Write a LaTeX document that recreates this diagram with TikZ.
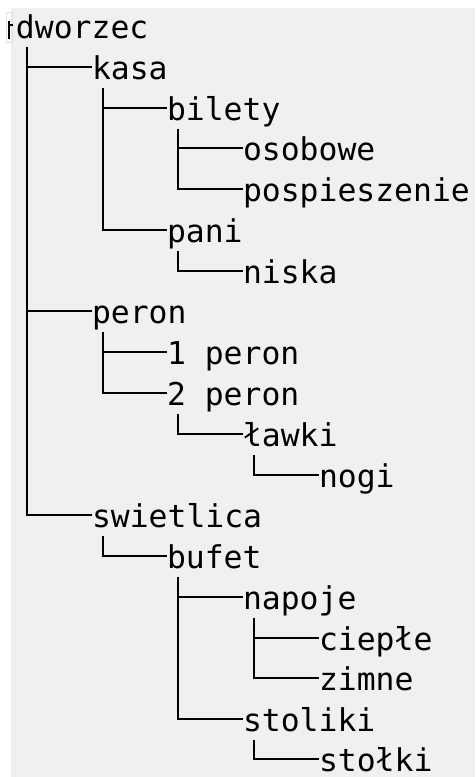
\documentclass[tikz,border=0pt]{standalone}
\usepackage{fontspec}
\newfontfamily\treefont{DejaVu Sans Mono}
\usetikzlibrary{calc}
\definecolor{panelgray}{RGB}{240,240,240}
\begin{document}
\begin{tikzpicture}[x=1pt,y=-1pt,
  treenode/.style={font=\treefont\fontsize{31.4}{38}\selectfont, inner sep=0pt, outer sep=0pt,
    text height=24pt, text depth=0pt, anchor=base west},
  branch/.style={line width=2.4pt, black}]
\useasboundingbox (0,0) rectangle (475,777);
\fill[panelgray] (11,8) rectangle (475,777);
% small partial glyph at the top left
\draw[gray!25, line width=0.8pt] (6.5,12) rectangle (12.5,42);
\draw[line width=1.6pt] (9,21) -- (9,39);
\draw[line width=1.6pt] (9,25) -- (12.5,25);
% nodes: x = column start per level, baseline per row
\node[treenode] (dworzec)  at (16, 38) {dworzec};
\node[treenode] (kasa)     at (92, 79) {kasa};
\node[treenode] (bilety)   at (167,120) {bilety};
\node[treenode] (osobowe)  at (243,160) {osobowe};
\node[treenode] (pospiesz) at (243,201) {pospieszenie};
\node[treenode] (pani)     at (167,242) {pani};
\node[treenode] (niska)    at (243,283) {niska};
\node[treenode] (peron)    at (92, 323) {peron};
\node[treenode] (peronA)   at (167,364) {1 peron};
\node[treenode] (peronB)   at (167,405) {2 peron};
\node[treenode] (lawki)    at (243,446) {ławki};
\node[treenode] (nogi)     at (319,487) {nogi};
\node[treenode] (swietl)   at (92, 527) {swietlica};
\node[treenode] (bufet)    at (167,568) {bufet};
\node[treenode] (napoje)   at (243,609) {napoje};
\node[treenode] (cieple)   at (319,650) {ciepłe};
\node[treenode] (zimne)    at (319,690) {zimne};
\node[treenode] (stoliki)  at (243,731) {stoliki};
\node[treenode] (stolki)   at (319,771) {stołki};
% connectors
\foreach \p/\c in {dworzec/kasa, dworzec/peron, dworzec/swietl,
  kasa/bilety, kasa/pani, bilety/osobowe, bilety/pospiesz, pani/niska,
  peron/peronA, peron/peronB, peronB/lawki, lawki/nogi,
  swietl/bufet, bufet/napoje, bufet/stoliki, napoje/cieple, napoje/zimne,
  stoliki/stolki}
  \draw[branch] ($(\p.base west)+(11,9)$) |- (\c.west);
\end{tikzpicture}
\end{document}
